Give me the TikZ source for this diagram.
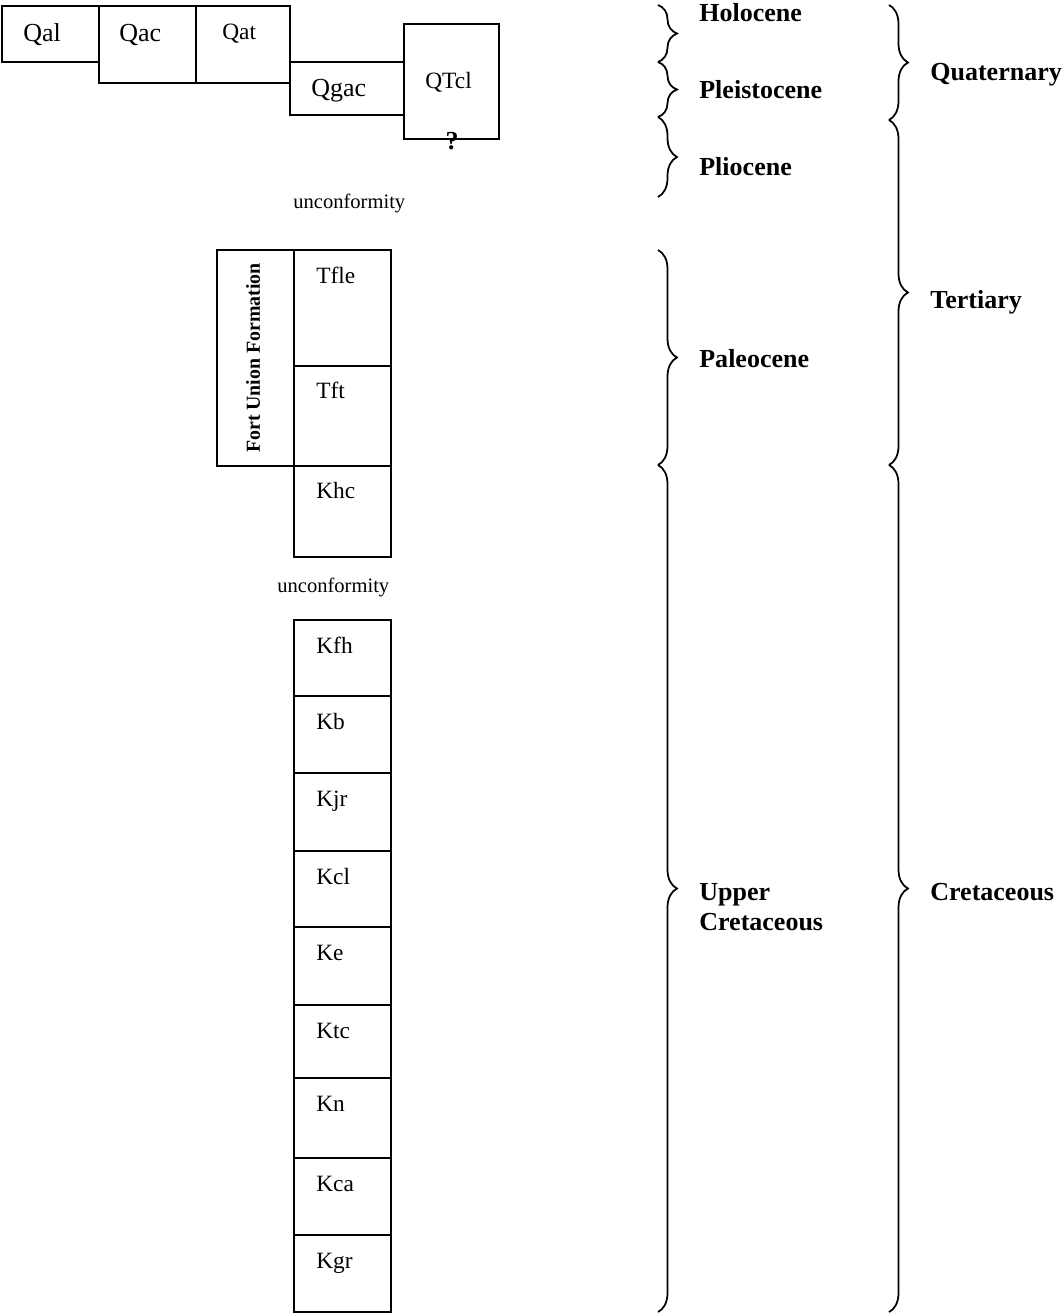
\documentclass[tikz,border=0pt]{standalone}
\usepackage{fontspec}
\setmainfont{Liberation Serif}
\usetikzlibrary{decorations.pathreplacing}

\begin{document}
\begin{tikzpicture}[
  x=0.02cm, y=-0.02cm,
  unit/.style={draw, line width=1.1pt},
  lbl/.style={anchor=base west, inner sep=0pt, font=\fontsize{13.3}{15}\selectfont},
  biglbl/.style={lbl, font=\fontsize{14.8}{17}\selectfont},
  age/.style={anchor=base west, inner sep=0pt, align=left,
              font=\fontsize{14.8}{17}\selectfont\bfseries},
  gap/.style={anchor=base west, inner sep=0pt, font=\fontsize{11.7}{14}\selectfont},
  brc/.style={decorate, decoration={brace, amplitude=0.38cm}, line width=1pt}
]
  \useasboundingbox (0,0) rectangle (1063,1315);

  % Quaternary deposits
  \draw[unit] (2,6) rectangle (99,62);
  \draw[unit] (99,6) rectangle (196,83);
  \draw[unit] (196,6) rectangle (290,83);
  \draw[unit] (290,62) rectangle (404,115);
  \draw[unit] (404,24) rectangle (499,139);
  \node[biglbl] (qal) at (23,41.5) {Qal};
  \node[biglbl] (qac) at (119,41.5) {Qac};
  \node[lbl] (qat) at (222,39) {Qat};
  \node[biglbl] (qgac) at (311,96.5) {Qgac};
  \node[lbl] (qtcl) at (425,88) {QTcl};
  \node[anchor=base, inner sep=0pt, font=\fontsize{14.8}{17}\selectfont\bfseries]
    (qm) at (452,149) {?};
  \node[gap] (unc1) at (293,208.5) {unconformity};

  % Fort Union and Hell Creek
  \draw[unit] (217,250) rectangle (294,466);
  \node[rotate=90, inner sep=0pt, font=\fontsize{11.3}{13}\selectfont\bfseries]
    (fu) at (253,358) {Fort Union Formation};
  \draw[unit] (294,250) rectangle (391,366);
  \draw[unit] (294,366) rectangle (391,466);
  \draw[unit] (294,466) rectangle (391,557);
  \node[lbl] (tfle) at (316,283) {Tfle};
  \node[lbl] (tft) at (316,398.5) {Tft};
  \node[lbl] (khc) at (316,498.5) {Khc};
  \node[gap] (unc2) at (277,592) {unconformity};

  % Upper Cretaceous column
  \foreach \nm/\ytop/\ybot in {Kfh/620/696, Kb/696/773, Kjr/773/851,
      Kcl/851/927, Ke/927/1005, Ktc/1005/1078, Kn/1078/1158,
      Kca/1158/1235, Kgr/1235/1312} {
    \draw[unit] (294,\ytop) rectangle (391,\ybot);
    \node[lbl] (\nm) at (316,\ytop+33) {\nm};
  }

  % epochs
  \coordinate (e0) at (658,5);
  \coordinate (e1) at (658,62);
  \coordinate (e2) at (658,117);
  \coordinate (e3) at (658,197);
  \coordinate (e4) at (658,250);
  \coordinate (e5) at (658,465);
  \coordinate (e6) at (658,1312);
  \draw[brc] (e0) -- (e1);
  \draw[brc] (e1) -- (e2);
  \draw[brc] (e2) -- (e3);
  \draw[brc] (e4) -- (e5);
  \draw[brc] (e5) -- (e6);
  \node[age] (hol) at (699,21.5) {Holocene};
  \node[age] (ple) at (699,98) {Pleistocene};
  \node[age] (pli) at (699,175) {Pliocene};
  \node[age] (pal) at (699,367) {Paleocene};
  \node[age] (uk) at (699,930) {Upper\\Cretaceous};

  % periods
  \coordinate (p0) at (889,5);
  \coordinate (p1) at (889,120);
  \coordinate (p2) at (889,465);
  \coordinate (p3) at (889,1312);
  \draw[brc] (p0) -- (p1);
  \draw[brc] (p1) -- (p2);
  \draw[brc] (p2) -- (p3);
  \node[age] (qua) at (930,80) {Quaternary};
  \node[age] (ter) at (930,308) {Tertiary};
  \node[age] (cre) at (930,900) {Cretaceous};
\end{tikzpicture}
\end{document}
